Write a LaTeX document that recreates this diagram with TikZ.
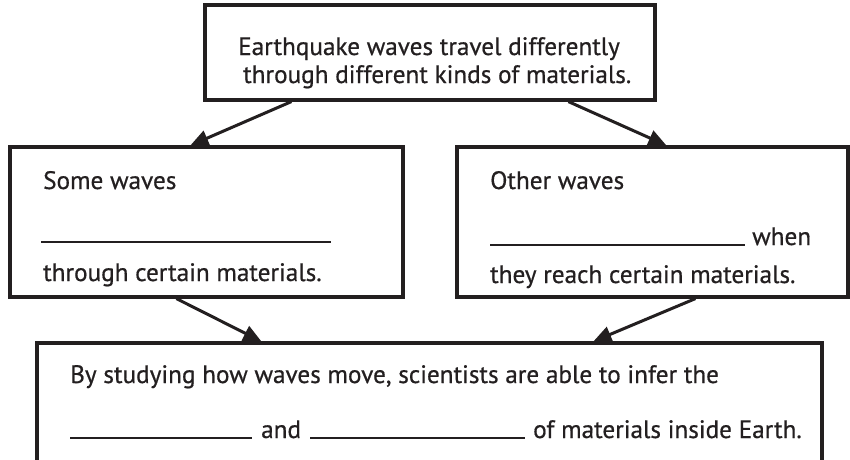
\documentclass[tikz,border=0pt]{standalone}
\usepackage{fontspec}
\setmainfont{PT Sans}[FakeBold=0.6]
\usetikzlibrary{arrows.meta}
\definecolor{ink}{HTML}{231F20}
\begin{document}
\begin{tikzpicture}[x=1pt,y=-1pt,
  box/.style={draw=ink, line width=3.2pt, rectangle, inner sep=0pt},
  conn/.style={draw=ink, line width=3pt, -{Triangle[length=18pt,width=16pt]}},
  txt/.style={anchor=base west, inner sep=0pt, font=\fontsize{25.2}{30}\selectfont, text=ink},
  blank/.style={draw=ink, line width=1.5pt}]
\useasboundingbox (0,0) rectangle (850,459);
\clip (0,0) rectangle (850,459);
\fill[white] (0,0) rectangle (850,459);
% boxes
\node[box, minimum width=450pt, minimum height=95pt] (top) at (430,52.5) {};
\node[box, minimum width=393pt, minimum height=150pt] (left) at (206.5,222) {};
\node[box, minimum width=391pt, minimum height=150pt] (right) at (652.5,222) {};
\node[box, minimum width=785pt, minimum height=157pt] (bottom) at (429.5,421.5) {};
% top text
\node[txt] (t1) at (238,55) {Earthquake waves travel differently};
\node[txt] (t2) at (243,83) {through different kinds of materials.};
% left text
\node[txt] (l1) at (43,189) {Some waves};
\coordinate (lb1) at (41,242);
\coordinate (lb2) at (331,242);
\draw[blank] (lb1) -- (lb2);
\node[txt] (l2) at (43,281) {through certain materials.};
% right text
\node[txt] (r1) at (490,189) {Other waves};
\coordinate (rb1) at (490,245);
\coordinate (rb2) at (745,245);
\draw[blank] (rb1) -- (rb2);
\node[txt] (r2) at (752,245) {when};
\node[txt] (r3) at (490,283) {they reach certain materials.};
% bottom text
\node[txt] (b1) at (70,383) {By studying how waves move, scientists are able to infer the};
\coordinate (bb1) at (70,438);
\coordinate (bb2) at (252,438);
\draw[blank] (bb1) -- (bb2);
\node[txt] (b2) at (261,438) {and};
\coordinate (bb3) at (310,438);
\coordinate (bb4) at (525,438);
\draw[blank] (bb3) -- (bb4);
\node[txt] (b3) at (533,438) {of materials inside Earth.};
% connectors
\draw[conn] ([xshift=88pt]top.south west) -- ([xshift=182pt]left.north west);
\draw[conn] ([xshift=365pt]top.south west) -- ([xshift=211pt]right.north west);
\draw[conn] ([xshift=168pt]left.south west) -- ([xshift=226pt]bottom.north west);
\draw[conn] ([xshift=240pt]right.south west) -- ([xshift=558pt]bottom.north west);
\end{tikzpicture}
\end{document}
